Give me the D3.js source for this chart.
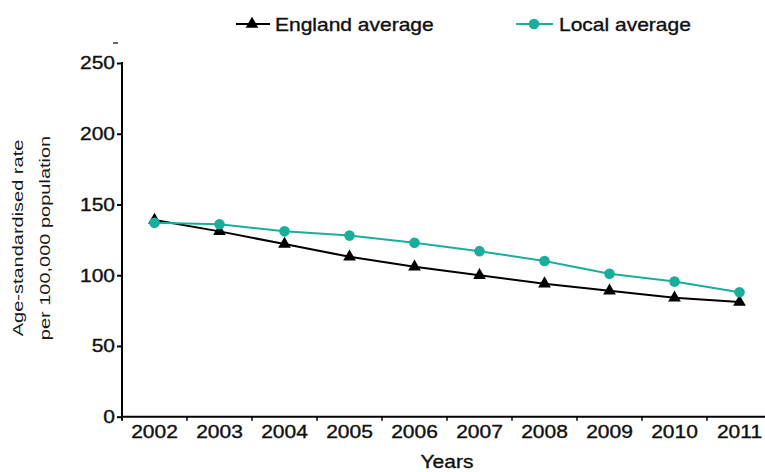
<!DOCTYPE html>
<html>
<head>
<meta charset="utf-8">
<script src="https://cdn.jsdelivr.net/npm/d3@7"></script>
<style>
  html, body { margin: 0; padding: 0; background: #fff; }
  svg { display: block; }
  text { font-family: "Liberation Sans", Arial, sans-serif; fill: #111; stroke: #111; stroke-width: 0.35px; }
  text.ytitle { stroke: none; fill: #1a1a1a; }
</style>
</head>
<body>
<svg id="chart" width="765" height="472"></svg>
<script>
// ---- data ----
const years = ["2002","2003","2004","2005","2006","2007","2008","2009","2010","2011"];
const englandAverage = [139, 131, 122, 113, 106, 100, 94, 89, 84, 81];
const localAverage = [137, 136, 131, 128, 123, 117, 110, 101, 95.5, 88];
const yTicks = [0, 50, 100, 150, 200, 250];
const seriesNames = ["England average", "Local average"];
const yTitleLines = ["Age-standardised rate", "per 100,000 population"];
const xTitle = "Years";

// ---- styles ----
const SX = 1.2;           // horizontal text stretch seen in reference
const FS = 17.5;
const teal = "#19ae9c";
const black = "#000";

const svg = d3.select("#chart");

const x = d3.scaleBand().domain(years).range([122, 772]).padding(0);
const y = d3.scaleLinear().domain([0, 250]).range([416.7, 63]);

function stretch(sel) {
  sel.attr("transform", `scale(${SX},1)`);
}

// ---- y axis ----
const yAxis = d3.axisLeft(y).tickValues(yTicks).tickSize(5).tickSizeOuter(0).tickPadding(2);
const gy = svg.append("g").attr("transform", "translate(122,0)").call(yAxis);
gy.select(".domain").remove();
gy.selectAll(".tick line").attr("stroke", black).attr("stroke-width", 2);
gy.selectAll(".tick text")
  .attr("x", -7 / SX)
  .attr("dy", "0.34em")
  .style("font-size", FS + "px")
  .attr("fill", "#111")
  .call(stretch);
svg.append("line")
  .attr("x1", 122).attr("x2", 122)
  .attr("y1", y(250) - 1).attr("y2", y(0) + 4)
  .attr("stroke", black).attr("stroke-width", 2);

// ---- x axis ----
const xAxis = d3.axisBottom(x).tickSize(0).tickPadding(9);
const gx = svg.append("g").attr("transform", `translate(0,${y(0)})`).call(xAxis);
gx.select(".domain").remove();
gx.selectAll(".tick text")
  .attr("dy", "0.71em")
  .style("font-size", FS + "px")
  .attr("fill", "#111")
  .call(stretch);
svg.append("line")
  .attr("x1", 121).attr("x2", 772)
  .attr("y1", y(0)).attr("y2", y(0))
  .attr("stroke", black).attr("stroke-width", 2);
svg.append("g").selectAll("line")
  .data(years.slice(0, -1))
  .join("line")
  .attr("x1", d => x(d) + x.bandwidth())
  .attr("x2", d => x(d) + x.bandwidth())
  .attr("y1", y(0)).attr("y2", y(0) + 4)
  .attr("stroke", black).attr("stroke-width", 1.5);

// axis titles
svg.append("g").attr("transform", `translate(${(x.range()[0] + x.range()[1]) / 2},468)`)
  .append("text").attr("text-anchor", "middle")
  .style("font-size", FS + "px").text(xTitle).call(stretch);

const yTitle = svg.append("g").attr("transform", "translate(0,238) rotate(-90)");
yTitleLines.forEach((t, i) => {
  yTitle.append("g").attr("transform", `translate(0,${23 + i * 27})`)
    .append("text").attr("class", "ytitle").attr("text-anchor", "middle")
    .style("font-size", "15.5px")
    .attr("transform", "scale(1.29,1)")
    .text(t);
});

// ---- lines ----
const line = d3.line().x((d, i) => x(years[i]) + x.bandwidth() / 2).y(d => y(d));

svg.append("path").datum(englandAverage)
  .attr("d", line).attr("fill", "none")
  .attr("stroke", black).attr("stroke-width", 2);
const tri = d3.symbol().type(d3.symbolTriangle).size(70);
svg.append("g").selectAll("path")
  .data(englandAverage)
  .join("path")
  .attr("d", tri)
  .attr("transform", (d, i) => `translate(${x(years[i]) + x.bandwidth() / 2},${y(d)})`)
  .attr("fill", black);

svg.append("path").datum(localAverage)
  .attr("d", line).attr("fill", "none")
  .attr("stroke", teal).attr("stroke-width", 2);
svg.append("g").selectAll("circle")
  .data(localAverage)
  .join("circle")
  .attr("cx", (d, i) => x(years[i]) + x.bandwidth() / 2)
  .attr("cy", d => y(d))
  .attr("r", 5.3)
  .attr("fill", teal);

// ---- legend ----
const leg1 = svg.append("g").attr("transform", "translate(236,24)");
leg1.append("line").attr("x1", 0).attr("x2", 34).attr("stroke", black).attr("stroke-width", 2);
leg1.append("path").attr("d", tri).attr("transform", "translate(16,0)").attr("fill", black);
leg1.append("g").attr("transform", "translate(39,7)")
  .append("text").style("font-size", FS + "px").text(seriesNames[0]).call(stretch);

const leg2 = svg.append("g").attr("transform", "translate(516,24)");
leg2.append("line").attr("x1", 0).attr("x2", 37).attr("stroke", teal).attr("stroke-width", 2);
leg2.append("circle").attr("cx", 18).attr("cy", 0).attr("r", 5.3).attr("fill", teal);
leg2.append("g").attr("transform", "translate(43,7)")
  .append("text").style("font-size", FS + "px").text(seriesNames[1]).call(stretch);

// small stray mark present in the reference
svg.append("line").attr("x1", 113).attr("x2", 118).attr("y1", 43).attr("y2", 43)
  .attr("stroke", "#333").attr("stroke-width", 1.5);
</script>
</body>
</html>
